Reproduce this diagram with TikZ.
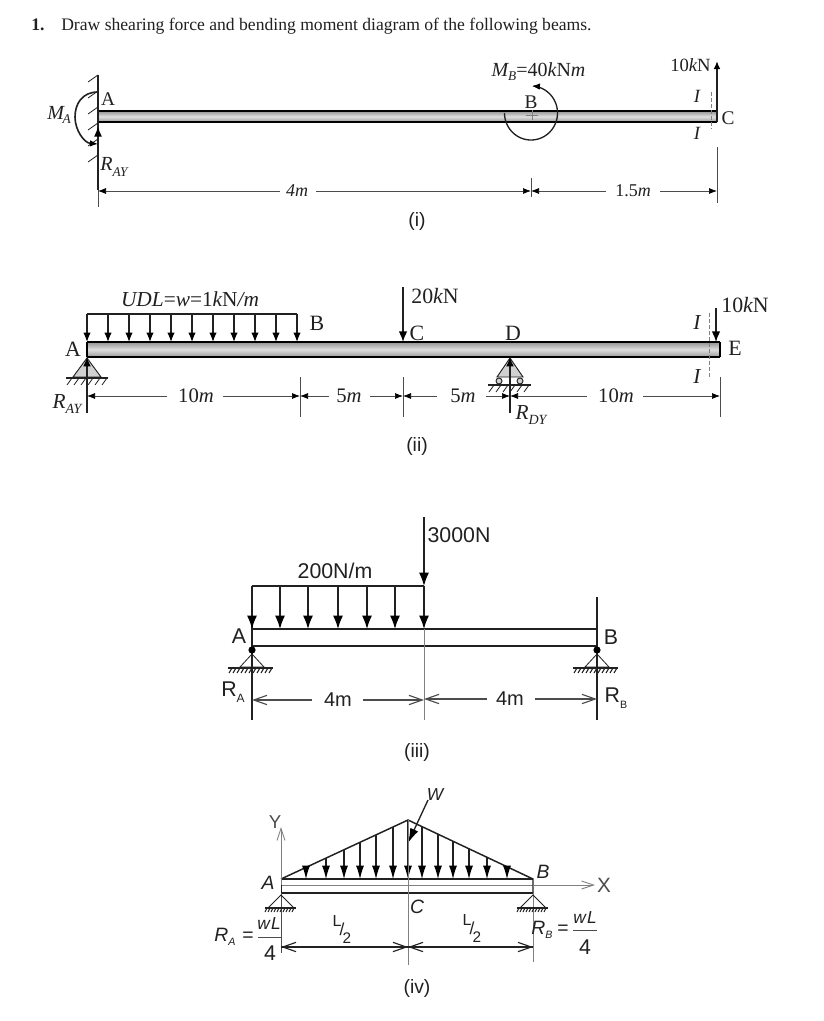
\documentclass[tikz,border=0pt]{standalone}
\usepackage{fontspec}
\setmainfont{Liberation Serif}
\setsansfont{Liberation Sans}
\usetikzlibrary{arrows.meta}
\definecolor{ink}{gray}{0.13}
\definecolor{thin}{gray}{0.3}
\definecolor{pale}{gray}{0.5}
\definecolor{sup}{gray}{0.82}
\tikzset{
 sr/.style={inner sep=0pt,font=\fontsize{14.5}{16}\selectfont,text=ink},
 srl/.style={inner sep=0pt,font=\fontsize{16.4}{18}\selectfont,text=ink},
 sril/.style={inner sep=0pt,font=\itshape\fontsize{16}{18}\selectfont,text=ink},
 ss/.style={inner sep=0pt,font=\sffamily\fontsize{13}{15}\selectfont,text=ink},
 scap/.style={inner sep=0pt,font=\sffamily\fontsize{14.5}{16}\selectfont,text=ink},
 sslg/.style={inner sep=0pt,font=\sffamily\fontsize{16}{18}\selectfont,text=ink},
 si/.style={inner sep=0pt,font=\sffamily\itshape\fontsize{13}{15}\selectfont,text=ink},
 sil/.style={inner sep=0pt,font=\sffamily\itshape\fontsize{14.5}{16}\selectfont,text=ink},
 dimline/.style={draw=thin,line width=0.55pt},
 dimr/.style={dimline,-{Latex[length=6pt,width=4.5pt,black]}},
 dimo/.style={draw=thin,line width=0.85pt,-{Straight Barb[length=10pt,width=7pt]}},
 load/.style={draw=ink,line width=0.95pt,-{Latex[length=7pt,width=5.5pt,black]}},
 bigload/.style={draw=ink,line width=1.2pt,-{Latex[length=8pt,width=6.5pt,black]}},
 sansload/.style={draw=ink,line width=1.1pt,-{Latex[length=10pt,width=7.5pt,black]}},
 triload/.style={draw=ink,line width=0.8pt,-{Latex[length=10pt,width=6pt,black]}},
 edge/.style={draw=black,line width=1.35pt},
 hatch/.style={draw=ink,line width=0.6pt},
 tick/.style={draw=thin,line width=0.55pt},
 secline/.style={draw=pale,line width=0.6pt,dash pattern=on 3pt off 1.5pt},
 guide/.style={draw=pale,line width=0.6pt},
 beam2/.style={draw=ink,line width=1.15pt},
 beamfill/.style={top color=gray!85,bottom color=gray!80,middle color=gray!25},
}
\begin{document}
\begin{tikzpicture}[x=0.75pt,y=-0.75pt]
\useasboundingbox[fill=white] (0,0) rectangle (824,1021);
% title
\node[anchor=base west,inner sep=0pt,font=\bfseries\fontsize{13.2}{15}\selectfont,text=ink] (num) at (31,30) {1.};
\node[anchor=base west,inner sep=0pt,font=\fontsize{13.2}{15}\selectfont,text=ink] (title) at (61,30) {Draw shearing force and bending moment diagram of the following beams.};

%% ---------- beam (i)
\shade[beamfill] (98,111) rectangle (717,122);
\draw[edge] (98,111) -- (717,111) (98,122) -- (717,122);
\draw[edge] (717,111) -- (717,122);
\draw[line width=1.3pt,draw=ink] (98,75) -- (98,190);
\draw[tick] (98,190) -- (98,207);
\foreach \y in {75,91,107,123,139,155} \draw[hatch] (98,\y) -- (88,\y+7);
\draw[line width=1.2pt,draw=ink,-{Latex[length=6pt,width=5pt,black]}] (98,92) .. controls (82,92) and (75,104) .. (75,117) .. controls (75,130) and (84,143) .. (98,144);
\draw[line width=1.3pt,draw=ink,-{Latex[length=8pt,width=6pt,black]}] (98,190) -- (98,126);
\node[sr,font=\itshape\fontsize{15}{17}\selectfont] (MA) at (59,115) {$\mathit{M}$\kern-1pt\raisebox{-3pt}{\fontsize{10}{10}\selectfont A}};
\node[sr] (Ai) at (108,99) {A};
\node[sr,font=\itshape\fontsize{15}{17}\selectfont] (RAYi) at (114,167) {R\raisebox{-4pt}{\fontsize{10}{10}\selectfont AY}};
\draw[line width=1pt,draw=ink,-{Latex[length=6pt,width=5pt,black]}] plot[domain=180:-88,samples=70] ({531+26.5*cos(\x)},{113+27*sin(\x)});
\draw[draw=pale,line width=0.5pt] (526,115) -- (538,115) (532,110) -- (532,120);
\node[sr] (Bi) at (531,102) {B};
\node[sr,font=\itshape\fontsize{15}{17}\selectfont] (MB) at (538.5,72) {M\raisebox{-3pt}{\fontsize{10}{10}\selectfont B}\upshape =40\itshape k\upshape N\itshape m};
\draw[line width=1.2pt,draw=ink,-{Latex[length=6pt,width=5pt,black]}] (717,122) -- (717,61);
\node[inner sep=0pt,font=\fontsize{14}{15}\selectfont,text=ink] (Pi) at (690.5,65) {10\itshape k\upshape N};
\node[sr] (Ci) at (728,118) {C};
\node[sr,font=\itshape\fontsize{14}{15}\selectfont] (Iia) at (697,96) {I};
\node[sr,font=\itshape\fontsize{14}{15}\selectfont] (Iib) at (697,133) {I};
\draw[secline] (711,92) -- (711,129);
\node[inner sep=0pt,font=\fontsize{13.5}{15}\selectfont,text=ink] (d1) at (297,191) {\itshape 4m};
\node[inner sep=0pt,font=\fontsize{13.5}{15}\selectfont,text=ink] (d2) at (633,191) {1.5\itshape m};
\draw[dimr] (280,191) -- (98,191);
\draw[dimr] (316,191) -- (531,191);
\draw[dimr] (606,191) -- (531,191);
\draw[dimr] (660,191) -- (717,191);
\draw[tick] (531,178) -- (531,197);
\draw[tick] (717,147) -- (717,203);
\node[scap] (li) at (417,221) {(i)};

%% ---------- beam (ii)
\shade[beamfill] (87,342) rectangle (720,357);
\draw[edge] (87,342) -- (720,342) (87,357) -- (720,357);
\draw[edge] (87,342) -- (87,357);
\draw[edge] (720,342) -- (720,357);
\draw[line width=0.9pt,draw=ink] (87,314) -- (297,314);
\foreach \x in {87,108,129,150,171,192,213,234,255,276,297} \draw[load] (\x,314) -- (\x,342);
\node[sril] (udl) at (190,299) {UDL\upshape =\itshape w\upshape =1\itshape k\upshape N\itshape /m};
\node[srl] (Bii) at (317,323) {B};
\node[srl] (Aii) at (73,349) {A};
\draw[draw=ink,line width=0.7pt,fill=sup] (87,358) -- (73,377) -- (101,377) -- cycle;
\draw[draw=ink,line width=0.9pt] (66,378) -- (108,378);
\foreach \x in {72,79,86,93,100,107} \draw[hatch] (\x,378) -- (\x-5,385);
\draw[line width=1.3pt,draw=ink,-{Latex[length=7pt,width=6pt,black]}] (87,413) -- (87,357);
\node[sril] (RAYii) at (67,404) {R\raisebox{-4pt}{\fontsize{10.5}{11}\selectfont AY}};
% dims
\node[srl,font=\fontsize{15.5}{17}\selectfont] (d3) at (196,396) {10\itshape m};
\node[srl,font=\fontsize{15.5}{17}\selectfont] (d4) at (349,396) {5\itshape m};
\node[srl,font=\fontsize{15.5}{17}\selectfont] (d5) at (463,396) {5\itshape m};
\node[srl,font=\fontsize{15.5}{17}\selectfont] (d6) at (616,396) {10\itshape m};
\draw[dimr] (167,396) -- (87,396);
\draw[dimr] (223,396) -- (300,396);
\draw[dimr] (329,396) -- (300,396);
\draw[dimr] (370,396) -- (403,396);
\draw[dimr] (437,396) -- (403,396);
\draw[dimr] (486,396) -- (510,396);
\draw[dimr] (587,396) -- (510,396);
\draw[dimr] (643,396) -- (720,396);
\draw[tick] (300,377) -- (300,417);
\draw[tick] (403,377) -- (403,417);
\draw[tick] (720,377) -- (720,417);
% 20kN
\draw[bigload] (403,287) -- (403,342);
\node[srl] (Pii) at (435,296) {20\itshape k\upshape N};
\node[srl] (Cii) at (417,333) {C};
\node[srl] (Dii) at (513,333) {D};
\node[srl] (Eii) at (735,348) {E};
\node[sril] (Iiia) at (697,323) {I};
\node[sril] (Iiib) at (697,377) {I};
\draw[secline] (709,313) -- (709,377);
\draw[bigload] (716,308) -- (716,342);
\node[srl] (Qii) at (745,305) {10\itshape k\upshape N};
% D support
\draw[draw=ink,line width=0.7pt,fill=sup] (510,358) -- (497,377) -- (523,377) -- cycle;
\draw[draw=ink,line width=0.7pt,fill=sup] (499,381) circle[radius=3] (520,381) circle[radius=3];
\draw[draw=ink,line width=0.9pt] (488,385) -- (531,385);
\foreach \x in {494,501,508,515,522,529} \draw[hatch] (\x,385) -- (\x-5,392);
\draw[line width=1.3pt,draw=ink,-{Latex[length=7pt,width=6pt,black]}] (510,413) -- (510,357);
\node[sril] (RDY) at (531,415) {R\raisebox{-4pt}{\fontsize{10.5}{11}\selectfont DY}};
\node[scap] (lii) at (417,446) {(ii)};

%% ---------- beam (iii)
\draw[beam2] (252,629) -- (597,629) (252,646) -- (597,646);
\draw[line width=0.9pt,draw=ink] (252,586) -- (424,586);
\draw[line width=0.9pt,draw=ink] (252,586) -- (252,720);
\draw[line width=0.9pt,draw=ink] (597,597) -- (597,720);
\foreach \x in {252,280,308,338,367,395,424} \draw[sansload] (\x,586) -- (\x,629);
\draw[sansload] (424,517) -- (424,586);
\draw[guide] (424,629) -- (424,720);
\node[sslg] (p3) at (459,535) {3000N};
\node[sslg] (w3) at (335,571) {200N/m};
\node[sslg] (Aiii) at (239,636) {A};
\node[sslg] (Biii) at (611,637) {B};
\fill[black] (252,650) circle[radius=3.6];
\fill[black] (597,650) circle[radius=3.6];
\foreach \x in {252,597}{
 \draw[draw=ink,line width=0.6pt] (\x,654) -- (\x-12,667) -- (\x+12,667) -- cycle;
 \draw[draw=ink,line width=1pt] (\x-24,668) -- (\x+21,668);
 \foreach \d in {-20,-16,...,20} \draw[draw=ink,line width=0.8pt] (\x+\d,668) -- (\x+\d-3,673);
}
\node[sslg] (RA3) at (233,692) {R\raisebox{-4pt}{\fontsize{9}{9}\selectfont A}};
\node[sslg] (RB3) at (616,698) {R\raisebox{-4pt}{\fontsize{8}{8}\selectfont B}};
\node[sslg,font=\sffamily\fontsize{15}{17}\selectfont] (d7) at (338,700) {4m};
\node[sslg,font=\sffamily\fontsize{15}{17}\selectfont] (d8) at (510,699) {4m};
\draw[dimo] (312,700) -- (252,700);
\draw[dimo] (363,700) -- (424,700);
\draw[dimo] (487,699) -- (424,699);
\draw[dimo] (535,699) -- (597,699);
\node[scap] (liii) at (417,752) {(iii)};

%% ---------- beam (iv)
\draw[beam2] (281,879) -- (533,879) (281,893) -- (533,893);
\draw[draw=pale,line width=0.6pt] (281,885) -- (533,885);
\draw[line width=1.1pt,draw=ink] (281,879) -- (408,820) -- (533,879) -- (533,893);
\draw[line width=0.7pt,draw=ink] (281,885) -- (281,893);
\foreach \x in {306,326,344,360,376,393,408,422,438,453,469,487,507}{
 \pgfmathsetmacro{\ty}{\x<408 ? 879-(\x-281)*59/127 : 820+(\x-408)*59/125}
 \draw[triload] (\x,\ty) -- (\x,879);
}
\draw[draw=ink,line width=1pt,-{Latex[length=11pt,width=6.5pt,black]}] (428,800) -- (408,843);
\node[si] (wiv) at (435,795) {W};
\draw[draw=pale,line width=0.7pt,-{Straight Barb[length=9pt,width=6pt]}] (281,885) -- (281,827);
\node[ss,font=\sffamily\fontsize{14}{15}\selectfont,text=thin] (Yiv) at (275,822) {Y};
\draw[draw=pale,line width=0.7pt,-{Straight Barb[length=9pt,width=6pt]}] (533,885) -- (595,885);
\node[ss,font=\sffamily\fontsize{15.5}{17}\selectfont,text=thin] (Xiv) at (604,885) {X};
\draw[guide] (408,820) -- (408,965);
\draw[line width=0.7pt,draw=thin] (281,893) -- (281,953);
\draw[line width=0.7pt,draw=pale] (533,893) -- (533,962);
\foreach \x in {281,533}{
 \draw[draw=ink,line width=0.6pt] (\x,895) -- (\x-13,908) -- (\x+13,908) -- cycle;
 \draw[draw=ink,line width=1pt] (\x-16,908) -- (\x+15,908);
 \foreach \d in {-14,-11,...,13} \draw[draw=ink,line width=0.7pt] (\x+\d,908) -- (\x+\d-2,912);
}
\node[sil] (Aiv) at (268,883) {A};
\node[sil] (Biv) at (543,872) {B};
\node[sil] (Civ) at (417,907) {C};
\node[sil] (RAiv) at (225,937) {R\raisebox{-3pt}{\fontsize{8}{8}\selectfont A}};
\node[scap] (eqA) at (248,937) {=};
\draw[line width=0.7pt,draw=thin] (258,937) -- (281,937);
\node[si] (wLA) at (269,924) {w\kern1pt L};
\node[sslg] (fourA) at (270,953) {4};
\node[sil] (RBiv) at (542,930) {R\raisebox{-3pt}{\fontsize{8}{8}\selectfont B}};
\node[scap] (eqB) at (563,930) {=};
\draw[line width=0.7pt,draw=thin] (573,930) -- (597,930);
\node[si] (wLB) at (585,918) {w\kern1pt L};
\node[sslg] (fourB) at (585,947) {4};
\node[ss,font=\sffamily\fontsize{12}{13}\selectfont] (hl1) at (337,921) {L};
\node[ss,font=\sffamily\fontsize{13}{14}\selectfont] (hs1) at (342,929) {/};
\node[ss,font=\sffamily\fontsize{11.5}{12}\selectfont] (h21) at (347,938) {2};
\node[ss,font=\sffamily\fontsize{12}{13}\selectfont] (hl2) at (467,920) {L};
\node[ss,font=\sffamily\fontsize{13}{14}\selectfont] (hs2) at (472,928) {/};
\node[ss,font=\sffamily\fontsize{11.5}{12}\selectfont] (h22) at (477,937) {2};
\draw[dimo,draw=ink] (408,947) -- (281,947);
\draw[dimo,draw=ink] (281,947) -- (408,947);
\draw[dimo,draw=ink] (533,947) -- (408,947);
\draw[dimo,draw=ink] (408,947) -- (533,947);
\node[scap] (liv) at (417,988) {(iv)};
\end{tikzpicture}
\end{document}
